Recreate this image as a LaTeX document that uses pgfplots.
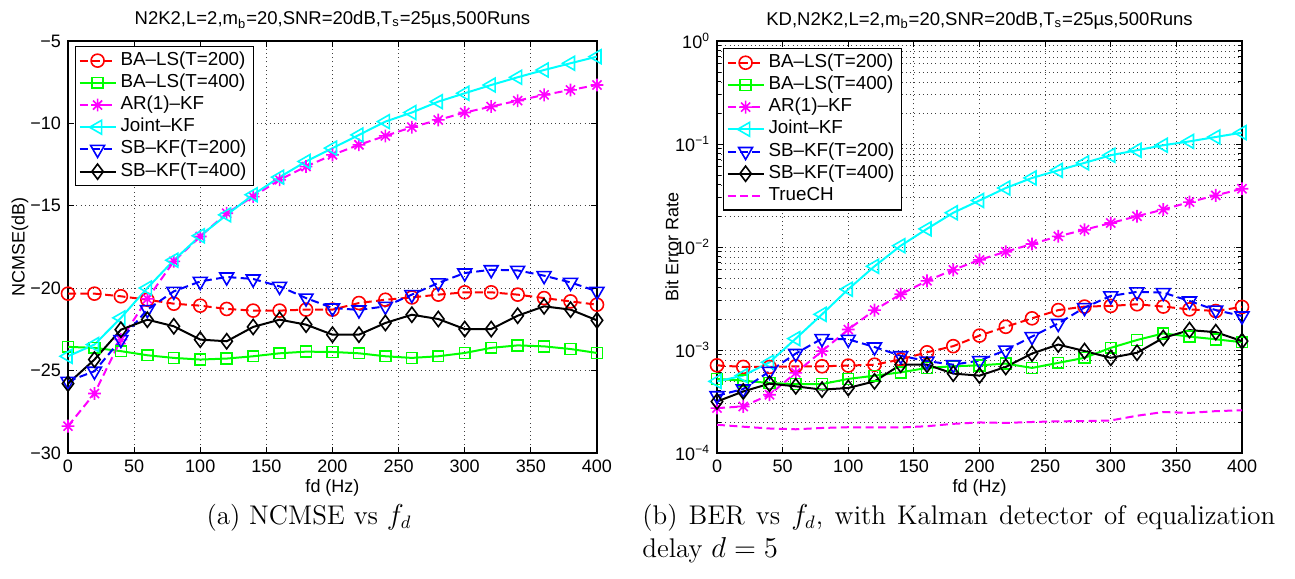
\documentclass[border=0pt]{standalone}
\usepackage{pgfplots}
\pgfplotsset{compat=1.18}
\usepackage{fontspec}
\newfontfamily\helv{Liberation Sans}

\pgfdeclareplotmark{mstar}{%
  \pgfpathmoveto{\pgfqpoint{-\pgfplotmarksize}{0pt}}\pgfpathlineto{\pgfqpoint{\pgfplotmarksize}{0pt}}%
  \pgfpathmoveto{\pgfqpoint{0pt}{-\pgfplotmarksize}}\pgfpathlineto{\pgfqpoint{0pt}{\pgfplotmarksize}}%
  \pgfpathmoveto{\pgfqpoint{-.7071\pgfplotmarksize}{-.7071\pgfplotmarksize}}\pgfpathlineto{\pgfqpoint{.7071\pgfplotmarksize}{.7071\pgfplotmarksize}}%
  \pgfpathmoveto{\pgfqpoint{-.7071\pgfplotmarksize}{.7071\pgfplotmarksize}}\pgfpathlineto{\pgfqpoint{.7071\pgfplotmarksize}{-.7071\pgfplotmarksize}}%
  \pgfusepathqstroke}

\definecolor{mred}{rgb}{1,0,0}
\definecolor{mgreen}{rgb}{0,1,0}
\definecolor{mmag}{rgb}{1,0,1}
\definecolor{mcyan}{rgb}{0,1,1}
\definecolor{mblue}{rgb}{0,0,1}

\pgfplotsset{
  mstyle/.style={
    scale only axis, height=206pt,
    xmin=0, xmax=400,
    xtick={0,50,...,400},
    xticklabels={0,50,100,150,200,250,300,350,400},
    tick align=inside, tick pos=both,
    major tick length=3pt, minor tick length=1.8pt,
    axis line style={line width=0.6pt},
    every tick/.style={black, line width=0.5pt},
    ticklabel style={font=\helv\fontsize{9}{10}\selectfont},
    label style={font=\helv\fontsize{9}{10}\selectfont},
    every axis title shift=0pt,
    title style={font=\helv\fontsize{9.25}{11}\selectfont, at={(0.5,1)}, anchor=base, yshift=8pt},
    grid style={black!75, line width=0.4pt, dash pattern=on 0.5pt off 1.6pt},
    xmajorgrids, ymajorgrids,
    xlabel={fd (Hz)},
    xlabel style={at={(axis description cs:0.5,-0.085)}, anchor=center},
    legend cell align=left,
    legend image code/.code={\draw[mark repeat=2,mark phase=2] plot coordinates {(0pt,0pt) (9pt,0pt) (18pt,0pt)};},
    legend style={anchor=north west, font=\helv\fontsize{9.4}{10}\selectfont,
      draw=black, line width=0.6pt, inner sep=1.5pt, row sep=0pt,
      nodes={inner ysep=1.3pt, text height=6.5pt, text depth=2pt}},
    every axis plot/.append style={line width=1pt},
  },
  dsh/.style={dash pattern=on 4pt off 2.2pt},
  pA/.style={mred, dsh, mark=o, mark size=3.25pt, mark options={solid, line width=0.8pt}},
  pB/.style={mgreen, solid, mark=square, mark size=2.7pt, mark options={solid, line width=0.8pt}},
  pC/.style={mmag, dsh, mark=mstar, mark size=3.2pt, mark options={solid, line width=0.8pt}},
  pD/.style={mcyan, solid, mark=triangle, mark size=4pt, mark options={solid, rotate=90, line width=0.8pt}},
  pE/.style={mblue, dsh, mark=triangle, mark size=4pt, mark options={solid, rotate=180, line width=0.8pt}},
  pF/.style={black, solid, mark=diamond, mark size=3.8pt, mark options={solid, line width=0.8pt}},
  pG/.style={mmag, dsh, no marks},
}

\begin{document}
\begin{tikzpicture}
\useasboundingbox (0,0) rectangle (647.5pt,289pt);

% ---------------- left axis ----------------
\begin{axis}[mstyle, at={(34pt,62.5pt)}, anchor=south west, width=264.5pt,
  ymin=-30, ymax=-5, ytick={-30,-25,-20,-15,-10,-5},
  yticklabels={−30,−25,−20,−15,−10,−5},
  ylabel={NCMSE(dB)},
  ylabel style={at={(axis description cs:-0.0907,0.5)}, anchor=center},
  title={N2K2,L=2,m\textsubscript{b}=20,SNR=20dB,T\textsubscript{s}=25µs,500Runs},
  legend style={at={(0.0132,0.988)}},
]
\addplot[pA] coordinates {(0,-20.33)(20,-20.33)(40,-20.49)(60,-20.7)(80,-20.94)(100,-21.06)(120,-21.26)(140,-21.36)(160,-21.36)(180,-21.3)(200,-21.3)(220,-20.9)(240,-20.7)(260,-20.56)(280,-20.39)(300,-20.25)(320,-20.25)(340,-20.39)(360,-20.6)(380,-20.8)(400,-21.0)};
\addlegendentry{BA–LS(T=200)}
\addplot[pB] coordinates {(0,-23.56)(20,-23.62)(40,-23.82)(60,-24.07)(80,-24.23)(100,-24.33)(120,-24.27)(140,-24.13)(160,-23.95)(180,-23.85)(200,-23.87)(220,-23.95)(240,-24.13)(260,-24.23)(280,-24.13)(300,-23.93)(320,-23.62)(340,-23.47)(360,-23.53)(380,-23.69)(400,-23.93)};
\addlegendentry{BA–LS(T=400)}
\addplot[pC] coordinates {(0,-28.37)(20,-26.39)(40,-23.12)(60,-20.65)(80,-18.37)(100,-16.86)(120,-15.45)(140,-14.44)(160,-13.42)(180,-12.62)(200,-11.91)(220,-11.30)(240,-10.76)(260,-10.23)(280,-9.79)(300,-9.34)(320,-8.98)(340,-8.62)(360,-8.27)(380,-7.97)(400,-7.67)};
\addlegendentry{AR(1)–KF}
\addplot[pD] coordinates {(0,-24.13)(20,-23.42)(40,-21.8)(60,-19.99)(80,-18.3)(100,-16.82)(120,-15.55)(140,-14.33)(160,-13.26)(180,-12.31)(200,-11.5)(220,-10.7)(240,-9.89)(260,-9.34)(280,-8.68)(300,-8.17)(320,-7.67)(340,-7.2)(360,-6.76)(380,-6.35)(400,-5.95)};
\addlegendentry{Joint–KF}
\addplot[pE] coordinates {(0,-25.65)(20,-25.04)(40,-23.12)(60,-21.3)(80,-20.19)(100,-19.59)(120,-19.32)(140,-19.44)(160,-19.89)(180,-20.6)(200,-21.2)(220,-21.32)(240,-21.1)(260,-20.39)(280,-19.68)(300,-19.08)(320,-18.88)(340,-18.92)(360,-19.24)(380,-19.65)(400,-20.19)};
\addlegendentry{SB–KF(T=200)}
\addplot[pF] coordinates {(0,-25.79)(20,-24.33)(40,-22.52)(60,-21.91)(80,-22.31)(100,-23.12)(120,-23.22)(140,-22.35)(160,-21.91)(180,-22.21)(200,-22.82)(220,-22.82)(240,-22.11)(260,-21.61)(280,-21.87)(300,-22.48)(320,-22.48)(340,-21.67)(360,-21.1)(380,-21.3)(400,-21.95)};
\addlegendentry{SB–KF(T=400)}
\end{axis}

% ---------------- right axis ----------------
\begin{axis}[mstyle, at={(358.5pt,62.5pt)}, anchor=south west, width=262.5pt,
  ymode=log, ymin=1e-4, ymax=1,
  ytick={1e-4,1e-3,1e-2,1e-1,1},
  yticklabels={10\textsuperscript{−4},10\textsuperscript{−3},10\textsuperscript{−2},10\textsuperscript{−1},10\textsuperscript{0}},
  minor ytick={2e-4,3e-4,4e-4,5e-4,6e-4,7e-4,8e-4,9e-4,2e-3,3e-3,4e-3,5e-3,6e-3,7e-3,8e-3,9e-3,2e-2,3e-2,4e-2,5e-2,6e-2,7e-2,8e-2,9e-2,0.2,0.3,0.4,0.5,0.6,0.7,0.8,0.9},
  yminorgrids, minor grid style={black!75, line width=0.4pt, dash pattern=on 0.5pt off 1.6pt},
  ylabel={Bit Error Rate},
  ylabel style={at={(axis description cs:-0.0857,0.5)}, anchor=center},
  title={KD,N2K2,L=2,m\textsubscript{b}=20,SNR=20dB,T\textsubscript{s}=25µs,500Runs},
  legend style={at={(0.0114,0.983)}},
]
\addplot[pA] coordinates {(0,7.1e-4)(20,6.85e-4)(40,6.85e-4)(60,6.95e-4)(80,6.95e-4)(100,7.06e-4)(120,7.2e-4)(140,8.1e-4)(160,9.5e-4)(180,1.09e-3)(200,1.38e-3)(220,1.68e-3)(240,2.03e-3)(260,2.44e-3)(280,2.64e-3)(300,2.68e-3)(320,2.78e-3)(340,2.64e-3)(360,2.48e-3)(380,2.39e-3)(400,2.62e-3)};
\addlegendentry{BA–LS(T=200)}
\addplot[pB] coordinates {(0,5.24e-4)(20,5.04e-4)(40,4.78e-4)(60,4.67e-4)(80,4.67e-4)(100,5.24e-4)(120,5.63e-4)(140,6.07e-4)(160,6.7e-4)(180,6.95e-4)(200,7.1e-4)(220,7.38e-4)(240,6.7e-4)(260,7.5e-4)(280,8.4e-4)(300,1.05e-3)(320,1.25e-3)(340,1.45e-3)(360,1.35e-3)(380,1.27e-3)(400,1.19e-3)};
\addlegendentry{BA–LS(T=400)}
\addplot[pC] coordinates {(0,2.73e-4)(20,2.83e-4)(40,3.68e-4)(60,6.0e-4)(80,9.76e-4)(100,1.58e-3)(120,2.44e-3)(140,3.48e-3)(160,4.69e-3)(180,6.0e-3)(200,7.5e-3)(220,9.0e-3)(240,1.07e-2)(260,1.27e-2)(280,1.47e-2)(300,1.71e-2)(320,1.99e-2)(340,2.31e-2)(360,2.73e-2)(380,3.17e-2)(400,3.68e-2)};
\addlegendentry{AR(1)–KF}
\addplot[pD] coordinates {(0,4.96e-4)(20,5.64e-4)(40,7.6e-4)(60,1.29e-3)(80,2.22e-3)(100,3.89e-3)(120,6.5e-3)(140,1.03e-2)(160,1.5e-2)(180,2.15e-2)(200,2.83e-2)(220,3.74e-2)(240,4.68e-2)(260,5.55e-2)(280,6.56e-2)(300,7.78e-2)(320,8.7e-2)(340,9.73e-2)(360,0.106)(380,0.117)(400,0.129)};
\addlegendentry{Joint–KF}
\addplot[pE] coordinates {(0,3.6e-4)(20,4.18e-4)(40,6.2e-4)(60,9.24e-4)(80,1.29e-3)(100,1.27e-3)(120,1.07e-3)(140,8.8e-4)(160,7.8e-4)(180,7.2e-4)(200,7.9e-4)(220,9.96e-4)(240,1.35e-3)(260,1.81e-3)(280,2.58e-3)(300,3.35e-3)(320,3.67e-3)(340,3.61e-3)(360,2.99e-3)(380,2.44e-3)(400,2.14e-3)};
\addlegendentry{SB–KF(T=200)}
\addplot[pF] coordinates {(0,3.16e-4)(20,3.96e-4)(40,4.71e-4)(60,4.44e-4)(80,4.12e-4)(100,4.28e-4)(120,4.96e-4)(140,7.2e-4)(160,7.2e-4)(180,5.9e-4)(200,5.64e-4)(220,6.85e-4)(240,9.24e-4)(260,1.13e-3)(280,9.76e-4)(300,8.4e-4)(320,9.4e-4)(340,1.31e-3)(360,1.56e-3)(380,1.49e-3)(400,1.22e-3)};
\addlegendentry{SB–KF(T=400)}
\addplot[pG] coordinates {(0,1.88e-4)(20,1.80e-4)(40,1.73e-4)(60,1.70e-4)(80,1.75e-4)(100,1.78e-4)(120,1.77e-4)(140,1.77e-4)(160,1.82e-4)(180,1.92e-4)(200,1.98e-4)(220,1.96e-4)(240,2.0e-4)(260,2.03e-4)(280,2.04e-4)(300,2.07e-4)(320,2.3e-4)(340,2.5e-4)(360,2.45e-4)(380,2.55e-4)(400,2.6e-4)};
\addlegendentry{TrueCH}
\end{axis}

% ---------------- captions ----------------
\node[anchor=base, inner sep=0pt, font=\fontsize{13.5}{16.5}\selectfont] at (154.5pt,27pt) {(a) NCMSE vs $f_d$};
\node[anchor=north west, inner sep=0pt, text width=316.5pt, align=justify, font=\fontsize{13.5}{16.5}\selectfont] at (321pt,37.1pt)
  {(b) BER vs $f_d$, with Kalman detector of equalization\linebreak delay $d=5$};
\end{tikzpicture}
\end{document}
